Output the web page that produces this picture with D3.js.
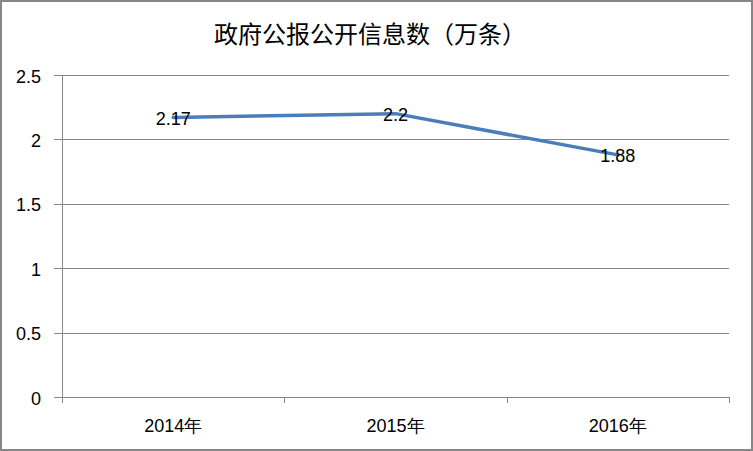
<!DOCTYPE html>
<html><head><meta charset="utf-8">
<script src="https://cdn.jsdelivr.net/npm/d3@7"></script>
<style>body{margin:0;background:#fff}svg{display:block}</style>
</head><body>
<script>
const categories = ["2014年", "2015年", "2016年"];
const values = [2.17, 2.2, 1.88];
const yTicks = [0, 0.5, 1, 1.5, 2, 2.5];
const title = "政府公报公开信息数（万条）";

const W = 753, H = 451;
const FONT = "Liberation Sans, Arial, sans-serif";
const svg = d3.select("body").append("svg").attr("width", W).attr("height", H);
svg.append("rect").attr("x", 1).attr("y", 1).attr("width", W - 2).attr("height", H - 2)
  .attr("fill", "#fff").attr("stroke", "#868686").attr("stroke-width", 2);

const mLeft = 62, mRight = 729, mTop = 75, mBottom = 397;
const x = d3.scaleBand().domain(categories).range([mLeft, mRight]);
const y = d3.scaleLinear().domain([0, 2.5]).range([mBottom, mTop]);

svg.append("text").attr("x", 370).attr("y", 43).attr("text-anchor", "middle")
  .attr("font-family", "Noto Sans CJK SC").attr("font-size", 24).attr("fill", "#000").text(title);

const g = svg.append("g");
g.selectAll("line.grid").data(yTicks).join("line")
  .attr("x1", mLeft - 8).attr("x2", mRight).attr("y1", d => Math.round(y(d)) + 0.5).attr("y2", d => Math.round(y(d)) + 0.5)
  .attr("stroke", "#868686").attr("stroke-width", 1);
g.selectAll("text.yl").data(yTicks).join("text")
  .attr("x", 41).attr("y", d => y(d) + 7.5).attr("text-anchor", "end")
  .attr("font-family", FONT).attr("font-size", 18).attr("fill", "#000")
  .text(d => d);
g.append("line").attr("x1", mLeft + 0.5).attr("x2", mLeft + 0.5).attr("y1", mTop).attr("y2", mBottom + 6)
  .attr("stroke", "#868686");
const bounds = categories.map(c => x(c)).concat([x(categories[categories.length - 1]) + x.bandwidth()]);
g.selectAll("line.xt").data(bounds).join("line")
  .attr("x1", d => Math.round(d) + 0.5).attr("x2", d => Math.round(d) + 0.5).attr("y1", mBottom).attr("y2", mBottom + 6)
  .attr("stroke", "#868686");
g.selectAll("text.xl").data(categories).join("text")
  .attr("x", d => x(d) + x.bandwidth() / 2).attr("y", 432).attr("text-anchor", "middle")
  .attr("font-family", FONT).attr("font-size", 18).attr("fill", "#000")
  .text(d => d);

const line = d3.line().x((d, i) => x(categories[i]) + x.bandwidth() / 2).y(d => y(d));
svg.append("path").datum(values).attr("d", line).attr("fill", "none")
  .attr("stroke", "#4a7ebb").attr("stroke-width", 3.5).attr("stroke-linejoin", "round").attr("stroke-linecap", "round");

svg.selectAll("text.dl").data(values).join("text")
  .attr("x", (d, i) => x(categories[i]) + x.bandwidth() / 2).attr("y", d => y(d) + 7.5)
  .attr("text-anchor", "middle")
  .attr("font-family", FONT).attr("font-size", 18).attr("fill", "#000")
  .text(d => d);
</script>
</body></html>
